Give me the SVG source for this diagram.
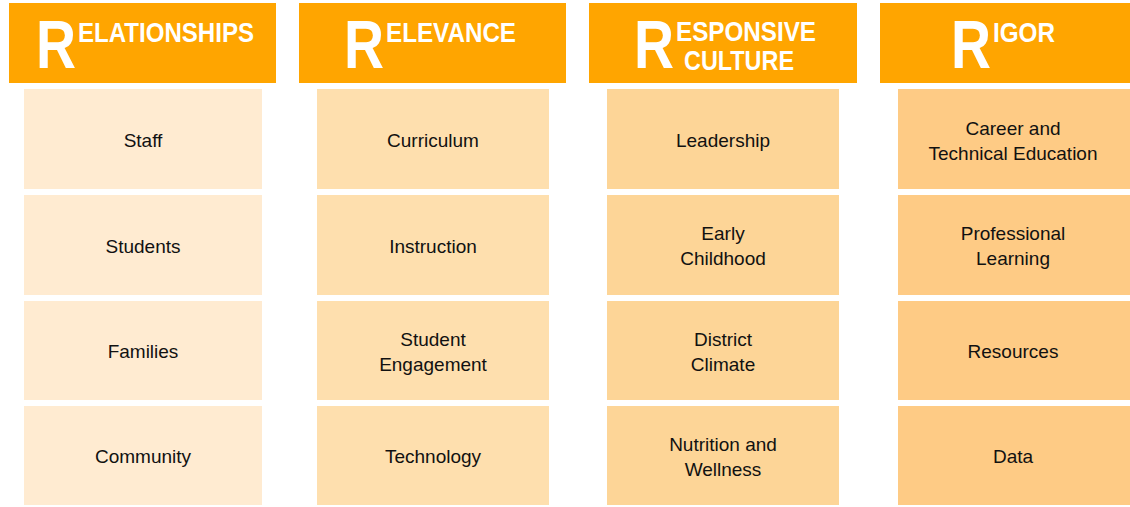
<svg xmlns="http://www.w3.org/2000/svg" width="1130" height="507" viewBox="0 0 1130 507">
<style>
.hdr{fill:#FFA500}
.big{font-family:"Liberation Sans",Arial,sans-serif;font-weight:bold;font-size:68px;fill:#fff}
.sm{font-family:"Liberation Sans",Arial,sans-serif;font-weight:bold;font-size:28px;fill:#fff}
.t{font-family:"Liberation Sans",Arial,sans-serif;font-size:19px;fill:#111;text-anchor:middle}
.c1{fill:#FFEBD1}.c2{fill:#FEDFAE}.c3{fill:#FDD597}.c4{fill:#FECB85}
</style>
<rect width="1130" height="507" fill="#fff"/>
<g id="col-relationships">
<rect class="hdr" x="9" y="3" width="267" height="80"/>
<text class="big" x="36" y="68" textLength="40" lengthAdjust="spacingAndGlyphs">R</text>
<text class="sm" x="78" y="42" textLength="176" lengthAdjust="spacingAndGlyphs">ELATIONSHIPS</text>
</g>
<g id="col-relevance">
<rect class="hdr" x="299" y="3" width="267" height="80"/>
<text class="big" x="344" y="68" textLength="40" lengthAdjust="spacingAndGlyphs">R</text>
<text class="sm" x="386" y="42" textLength="130" lengthAdjust="spacingAndGlyphs">ELEVANCE</text>
</g>
<g id="col-responsive">
<rect class="hdr" x="589" y="3" width="268" height="80"/>
<text class="big" x="634" y="68" textLength="40" lengthAdjust="spacingAndGlyphs">R</text>
<text class="sm" x="676" y="41" textLength="140" lengthAdjust="spacingAndGlyphs">ESPONSIVE</text>
<text class="sm" x="684" y="70" textLength="110" lengthAdjust="spacingAndGlyphs">CULTURE</text>
</g>
<g id="col-rigor">
<rect class="hdr" x="880" y="3" width="250" height="80"/>
<text class="big" x="951" y="68" textLength="40" lengthAdjust="spacingAndGlyphs">R</text>
<text class="sm" x="993" y="42" textLength="62" lengthAdjust="spacingAndGlyphs">IGOR</text>
</g>
<g id="staff"><rect class="c1" x="24" y="89" width="238" height="100"/><text class="t" x="143" y="147">Staff</text></g>
<g id="students"><rect class="c1" x="24" y="195" width="238" height="100"/><text class="t" x="143" y="253">Students</text></g>
<g id="families"><rect class="c1" x="24" y="301" width="238" height="99"/><text class="t" x="143" y="358">Families</text></g>
<g id="community"><rect class="c1" x="24" y="406" width="238" height="99"/><text class="t" x="143" y="463">Community</text></g>
<g id="curriculum"><rect class="c2" x="317" y="89" width="232" height="100"/><text class="t" x="433" y="147">Curriculum</text></g>
<g id="instruction"><rect class="c2" x="317" y="195" width="232" height="100"/><text class="t" x="433" y="253">Instruction</text></g>
<g id="student-engagement"><rect class="c2" x="317" y="301" width="232" height="99"/><text class="t" x="433" y="346">Student</text><text class="t" x="433" y="371">Engagement</text></g>
<g id="technology"><rect class="c2" x="317" y="406" width="232" height="99"/><text class="t" x="433" y="463">Technology</text></g>
<g id="leadership"><rect class="c3" x="607" y="89" width="232" height="100"/><text class="t" x="723" y="147">Leadership</text></g>
<g id="early-childhood"><rect class="c3" x="607" y="195" width="232" height="100"/><text class="t" x="723" y="240">Early</text><text class="t" x="723" y="265">Childhood</text></g>
<g id="district-climate"><rect class="c3" x="607" y="301" width="232" height="99"/><text class="t" x="723" y="346">District</text><text class="t" x="723" y="371">Climate</text></g>
<g id="nutrition-wellness"><rect class="c3" x="607" y="406" width="232" height="99"/><text class="t" x="723" y="451">Nutrition and</text><text class="t" x="723" y="476">Wellness</text></g>
<g id="cte"><rect class="c4" x="898" y="89" width="232" height="100"/><text class="t" x="1013" y="135">Career and</text><text class="t" x="1013" y="160">Technical Education</text></g>
<g id="professional-learning"><rect class="c4" x="898" y="195" width="232" height="100"/><text class="t" x="1013" y="240">Professional</text><text class="t" x="1013" y="265">Learning</text></g>
<g id="resources"><rect class="c4" x="898" y="301" width="232" height="99"/><text class="t" x="1013" y="358">Resources</text></g>
<g id="data"><rect class="c4" x="898" y="406" width="232" height="99"/><text class="t" x="1013" y="463">Data</text></g>
<g id="connectors"></g>
</svg>
